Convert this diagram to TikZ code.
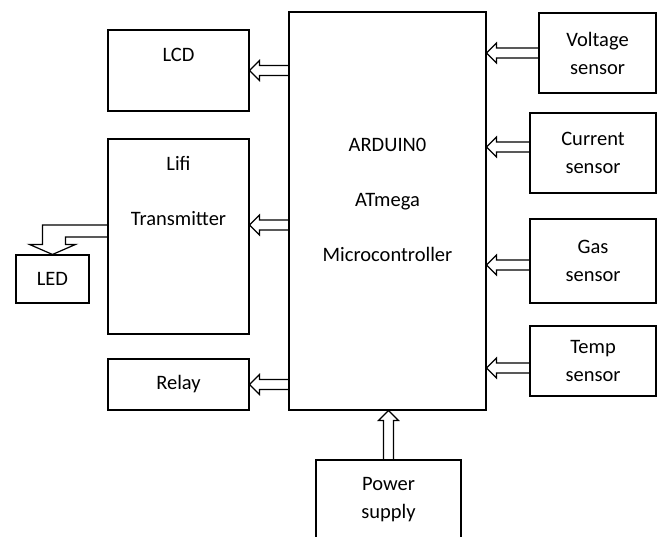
\documentclass[tikz,border=0pt]{standalone}
\usepackage{fontspec}
\setmainfont{Carlito}
\usetikzlibrary{calc}

\begin{document}
\begin{tikzpicture}[x=1pt, y=-1pt,
    box/.style={draw, line width=1.1pt, inner sep=0pt},
    txt/.style={align=center, font=\fontsize{20.5}{28}\selectfont},
    arrowline/.style={draw, line width=1.2pt, line join=miter},
    flow/.style={arrowline, to path={
        let \p1=($(\tikztotarget)!10pt!(\tikztostart)$) in
        ($(\tikztostart)!5pt!90:(\tikztotarget)$) -- ($(\p1)!5pt!90:(\tikztotarget)$)
        -- ($(\p1)!10pt!90:(\tikztotarget)$) -- (\tikztotarget)
        -- ($(\p1)!10pt!-90:(\tikztotarget)$) -- ($(\p1)!5pt!-90:(\tikztotarget)$)
        -- ($(\tikztostart)!5pt!-90:(\tikztotarget)$)}}]
        \useasboundingbox (0,0) rectangle (661,536);

        % Blocks
        \node[box, minimum width=197, minimum height=398] (main) at (387.5,211) {};
        \node[box, minimum width=141, minimum height=81] (lcd) at (178.5,70.5) {};
        \node[box, minimum width=141, minimum height=195] (lifi) at (178.5,236.5) {};
        \node[box, minimum width=73, minimum height=48, txt] (led) at (52.5,279) {LED};
        \node[box, minimum width=141, minimum height=51, txt] (relay) at (178.5,384.5) {Relay};
        \node[box, minimum width=117, minimum height=80, txt] (volt) at (597.5,53) {Voltage\\sensor};
        \node[box, minimum width=126, minimum height=80, txt] (curr) at (593,153) {Current\\sensor};
        \node[box, minimum width=126, minimum height=84, txt] (gas) at (593,261) {Gas\\sensor};
        \node[box, minimum width=126, minimum height=70, txt] (temp) at (593,361) {Temp\\sensor};
        \node[box, minimum width=145, minimum height=80, txt] (power) at (388.5,500) {Power\\supply};

        % Texts
        \node[txt, font=\fontsize{20.5}{55}\selectfont] (maintext) at (387.5,200) {ARDUIN0\\ATmega\\Microcontroller};
        \node[txt] (lcdtext) at (178.5,55) {LCD};
        \node[txt, font=\fontsize{20.5}{55}\selectfont] (lifitext) at (178.5,190.5) {Lifi\\Transmitter};

        % Arrow ends
        \coordinate (lifiin) at ([yshift=11.5pt]lifi.east);
        \coordinate (lifiout) at ([yshift=5.5pt]lifi.west);
        \coordinate (currout) at ([yshift=6pt]curr.west);
        \coordinate (gasout) at ([yshift=-4pt]gas.west);
        \coordinate (tempout) at ([yshift=-7pt]temp.west);

        % Connections
        \draw[flow] (main.west |- lcd.east) to (lcd.east);
        \draw[flow] (main.west |- lifiin) to (lifiin);
        \draw[flow] (main.west |- relay.east) to (relay.east);
        \draw[flow] (volt.west) to (main.east |- volt.west);
        \draw[flow] (currout) to (main.east |- currout);
        \draw[flow] (gasout) to (main.east |- gasout);
        \draw[flow] (tempout) to (main.east |- tempout);
        \draw[flow] (power.north) to (power.north |- main.south);
        \draw[arrowline] ([yshift=6pt]lifiout) -| ([xshift=-10pt, yshift=10pt]led.north)
            -- ++(-13pt,0) -- (led.north) -- ++(23pt,10pt) -- ++(-10pt,0)
            |- ([yshift=-6pt]lifiout);
    \end{tikzpicture}
\end{document}
